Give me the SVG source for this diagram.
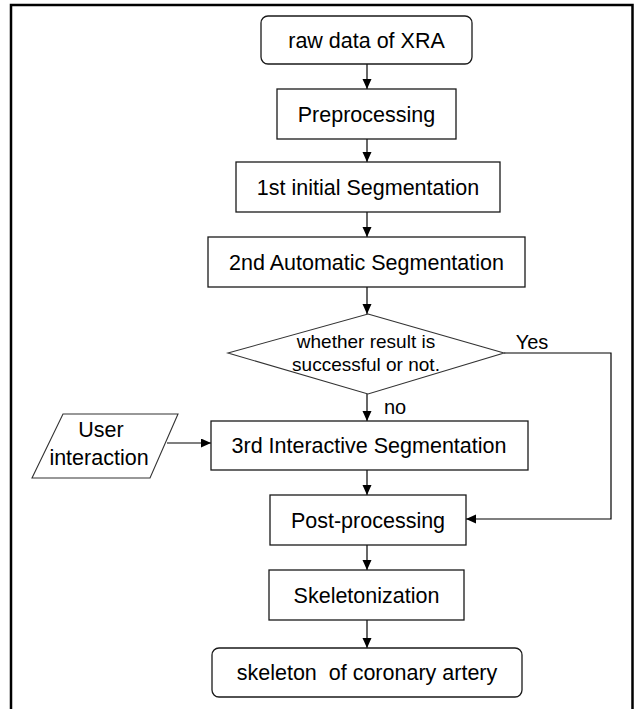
<svg xmlns="http://www.w3.org/2000/svg" width="634" height="709" viewBox="0 0 634 709">
  <style>
    .box { fill: #ffffff; stroke: #1a1a1a; stroke-width: 1.3; }
    .shape { fill: #ffffff; stroke: #333333; stroke-width: 1.1; }
    .lbl { font-family: "Liberation Sans", Arial, sans-serif; font-size: 21.5px; fill: #000000; text-anchor: middle; }
    .small { font-size: 19px; }
    .edge { fill: none; stroke: #000000; stroke-width: 1.2; }
  </style>
  <defs>
    <marker id="arrow" markerUnits="userSpaceOnUse" markerWidth="11" markerHeight="10" refX="10" refY="4.5" orient="auto">
      <path d="M0,0 L10,4.5 L0,9 z" fill="#000000"/>
    </marker>
  </defs>

  <rect width="634" height="709" fill="#ffffff"/>

  <!-- outer frame, open at the bottom -->
  <path d="M11,709 V5 H632.5 V709" fill="none" stroke="#000000" stroke-width="2.5"/>

  <g id="connectors">
    <line class="edge" x1="367" y1="64" x2="367" y2="89" marker-end="url(#arrow)"/>
    <line class="edge" x1="367" y1="139" x2="367" y2="162" marker-end="url(#arrow)"/>
    <line class="edge" x1="367" y1="212" x2="367" y2="237" marker-end="url(#arrow)"/>
    <line class="edge" x1="367" y1="287" x2="367" y2="314" marker-end="url(#arrow)"/>
    <line class="edge" x1="367" y1="394" x2="367" y2="421" marker-end="url(#arrow)"/>
    <line class="edge" x1="167" y1="443" x2="211" y2="443" marker-end="url(#arrow)"/>
    <line class="edge" x1="367" y1="470" x2="367" y2="495" marker-end="url(#arrow)"/>
    <path class="edge" d="M504,353 H611 V519 H466" marker-end="url(#arrow)"/>
    <line class="edge" x1="367" y1="545" x2="367" y2="570" marker-end="url(#arrow)"/>
    <line class="edge" x1="367" y1="620" x2="367" y2="648" marker-end="url(#arrow)"/>
    <text class="lbl" x="532" y="349" style="font-size:20px">Yes</text>
    <text class="lbl" x="395" y="414" style="font-size:20px">no</text>
  </g>

  <g id="raw-data">
    <rect class="box" x="261" y="16" width="211" height="48" rx="7"/>
    <text class="lbl" x="366.5" y="47.5">raw data of XRA</text>
  </g>

  <g id="preprocessing">
    <rect class="box" x="277" y="89" width="179" height="50"/>
    <text class="lbl" x="366.5" y="121.5">Preprocessing</text>
  </g>

  <g id="initial-segmentation">
    <rect class="box" x="236" y="162" width="264" height="50"/>
    <text class="lbl" x="368" y="194.5">1st initial Segmentation</text>
  </g>

  <g id="automatic-segmentation">
    <rect class="box" x="208" y="237" width="317" height="50"/>
    <text class="lbl" x="366.5" y="269.5">2nd Automatic Segmentation</text>
  </g>

  <g id="decision">
    <polygon class="shape" points="368,314 504,353 368,394 228,353"/>
    <text class="lbl small" x="366" y="348">whether result is</text>
    <text class="lbl small" x="366" y="371">successful or not.</text>
  </g>

  <g id="user-interaction">
    <polygon class="shape" points="63,414 178,414 150,478 32,478"/>
    <text class="lbl" x="101" y="437">User</text>
    <text class="lbl" x="99" y="465">interaction</text>
  </g>

  <g id="interactive-segmentation">
    <rect class="box" x="211" y="421" width="317" height="49"/>
    <text class="lbl" x="369" y="453">3rd Interactive Segmentation</text>
  </g>

  <g id="post-processing">
    <rect class="box" x="270" y="495" width="196" height="50"/>
    <text class="lbl" x="368" y="527.5">Post-processing</text>
  </g>

  <g id="skeletonization">
    <rect class="box" x="269" y="570" width="195" height="50"/>
    <text class="lbl" x="366.5" y="602.5">Skeletonization</text>
  </g>

  <g id="skeleton-result">
    <rect class="box" x="212" y="648" width="310" height="49" rx="7"/>
    <text class="lbl" x="367" y="680" style="white-space:pre">skeleton  of coronary artery</text>
  </g>
</svg>
